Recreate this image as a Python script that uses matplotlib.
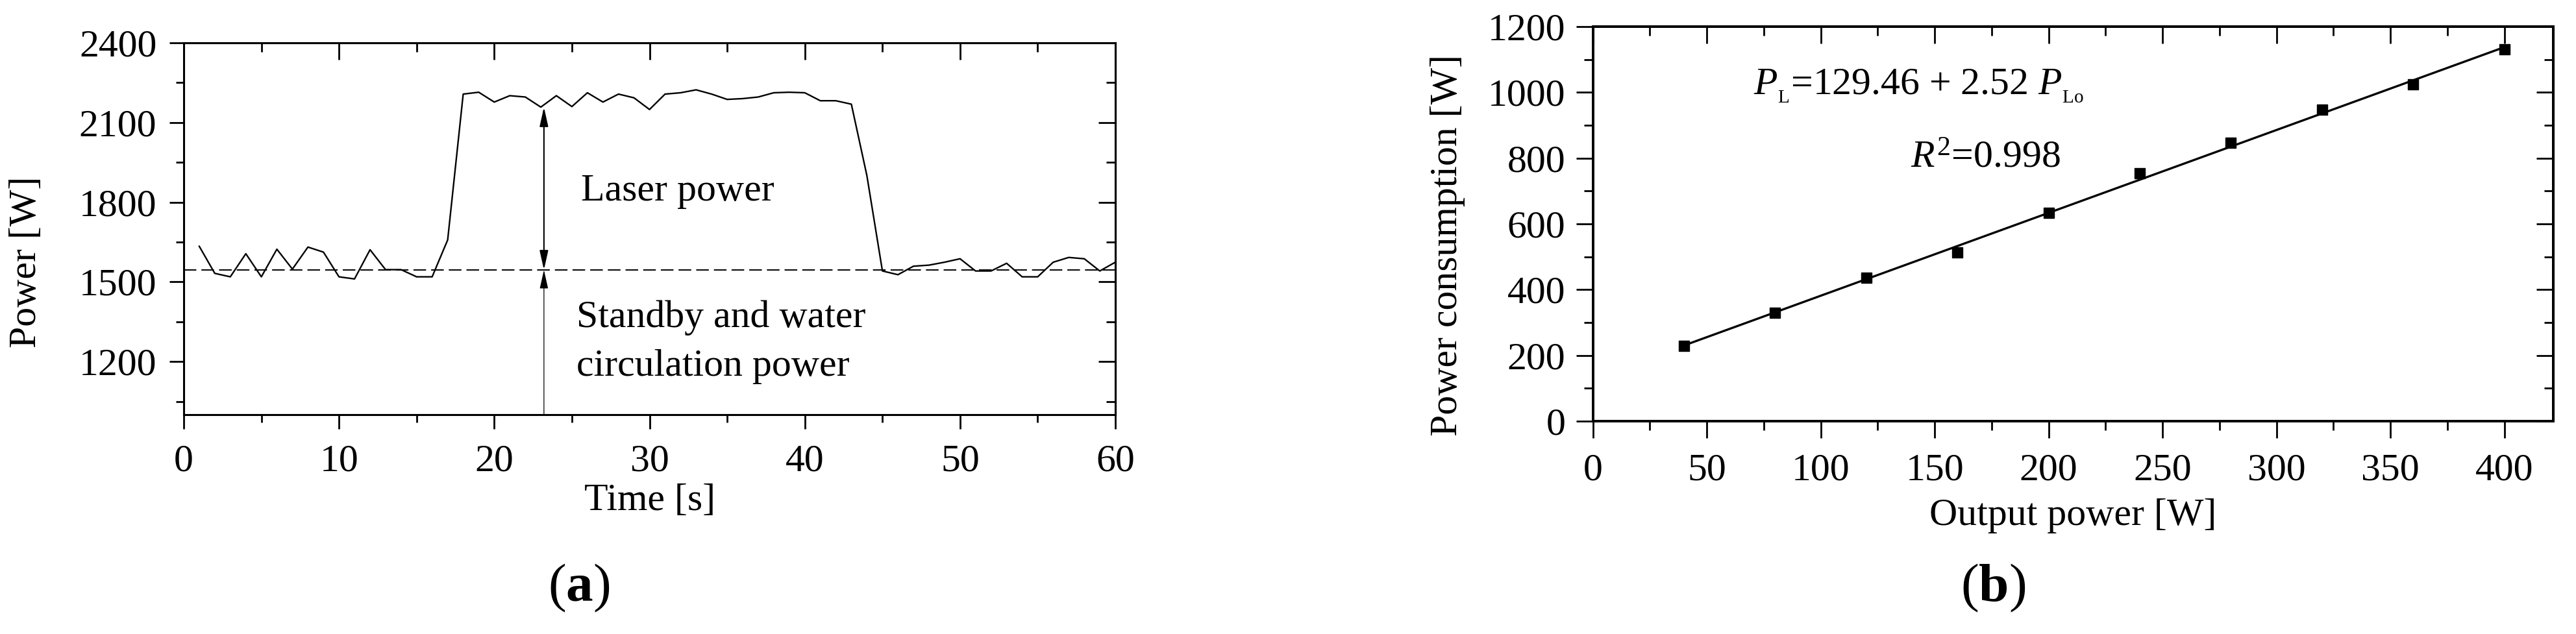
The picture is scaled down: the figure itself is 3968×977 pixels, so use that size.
import matplotlib
matplotlib.use("Agg")
import matplotlib.pyplot as plt
from matplotlib.patches import FancyArrowPatch
import numpy as np

plt.rcParams['font.family'] = ['Liberation Serif', 'DejaVu Serif']
plt.rcParams['mathtext.fontset'] = 'custom'
plt.rcParams['mathtext.rm'] = 'Liberation Serif'
plt.rcParams['mathtext.it'] = 'Liberation Serif:italic'
plt.rcParams['mathtext.bf'] = 'Liberation Serif:bold'

# ---------------- data (a) ----------------
time_s = list(range(1, 61))
power_w = [1634, 1532, 1519, 1606, 1519, 1623, 1548, 1631, 1612, 1519,
           1511, 1621, 1546, 1546, 1519, 1519, 1658, 2207, 2214, 2177,
           2201, 2196, 2158, 2201, 2160, 2212, 2177, 2207, 2193, 2149,
           2207, 2212, 2223, 2207, 2187, 2190, 2196, 2212, 2214, 2212,
           2182, 2182, 2169, 1900, 1541, 1527, 1559, 1563, 1574, 1587,
           1541, 1541, 1570, 1519, 1519, 1574, 1592, 1587, 1541, 1574]
standby_level = 1545
arrow_time = 23.2
arrow_top = 2158
a_xticks = [0, 10, 20, 30, 40, 50, 60]
a_yticks = [1200, 1500, 1800, 2100, 2400]

# ---------------- data (b) ----------------
output_power = [40, 80, 120, 160, 200, 240, 280, 320, 360, 400]
consumption = [228, 330, 437, 514, 633, 754, 846, 948, 1025, 1131]
fit_intercept = 129.46
fit_slope = 2.52
b_xticks = [0, 50, 100, 150, 200, 250, 300, 350, 400]
b_yticks = [0, 200, 400, 600, 800, 1000, 1200]

W, H = 3968, 977
fig = plt.figure(figsize=(W / 100, H / 100), dpi=100)
FS = 43


def style_axes(ax, xmaj, xmin, ymaj, ymin, lw, out_len, in_len, xpad, ypad):
    for s in ax.spines.values():
        s.set_linewidth(lw)
    ax.set_xticks(xmaj)
    ax.set_xticks(xmin, minor=True)
    ax.set_yticks(ymaj)
    ax.set_yticks(ymin, minor=True)
    ax.tick_params(which='major', direction='out', length=out_len, width=2.0,
                   labelsize=FS, top=False, right=False)
    ax.tick_params(which='minor', direction='out', length=out_len * 0.55, width=2.0,
                   top=False, right=False)
    ax.tick_params(axis='x', which='major', pad=xpad)
    ax.tick_params(axis='y', which='major', pad=ypad)
    secx = ax.secondary_xaxis('top')
    secx.set_xticks(xmaj)
    secx.set_xticks(xmin, minor=True)
    secx.tick_params(which='major', direction='in', length=in_len, width=2.0, labeltop=False)
    secx.tick_params(which='minor', direction='in', length=in_len * 0.52, width=2.0, labeltop=False)
    secx.spines['top'].set_linewidth(lw)
    secy = ax.secondary_yaxis('right')
    secy.set_yticks(ymaj)
    secy.set_yticks(ymin, minor=True)
    secy.tick_params(which='major', direction='in', length=in_len, width=2.0, labelright=False)
    secy.tick_params(which='minor', direction='in', length=in_len * 0.52, width=2.0, labelright=False)
    secy.spines['right'].set_linewidth(lw)


# ================= (a) =================
ax1 = fig.add_axes([283 / W, 1 - 639 / H, (1718 - 283) / W, (639 - 66) / H])
ax1.plot(time_s, power_w, color='black', lw=1.7)
ax1.axhline(standby_level, color='black', lw=1.4, ls=(0, (10, 4)))
ax1.set_xlim(0, 60)
ax1.set_ylim(1000, 2400)
style_axes(ax1, a_xticks, np.arange(0, 61, 5), a_yticks, np.arange(1050, 2400, 150),
           2.2, 16, 19, 17, 14)
ax1.set_xlabel('Time [s]', fontsize=FS)
ax1.set_ylabel('Power [W]', fontsize=FS)
ax1.xaxis.set_label_coords(0.5, -0.185)
ax1.yaxis.set_label_coords(-0.150, 0.41)

up = FancyArrowPatch((arrow_time, standby_level), (arrow_time, arrow_top),
                     arrowstyle='<|-|>,head_length=18,head_width=4', mutation_scale=1,
                     lw=1.5, color='black', shrinkA=0, shrinkB=0)
ax1.add_patch(up)
low = FancyArrowPatch((arrow_time, 1000), (arrow_time, standby_level),
                      arrowstyle='-|>,head_length=18,head_width=4', mutation_scale=1,
                      lw=0.9, color='black', shrinkA=0, shrinkB=0)
ax1.add_patch(low)
ax1.text(25.6, 1806, 'Laser power', fontsize=FS, ha='left', va='baseline')
ax1.text(25.3, 1330, 'Standby and water', fontsize=FS, ha='left', va='baseline')
ax1.text(25.3, 1146, 'circulation power', fontsize=FS, ha='left', va='baseline')

# ================= (b) =================
ax2 = fig.add_axes([2453.6 / W, 1 - 649 / H, (3933 - 2453.6) / W, (649 - 41) / H])
fit_x = np.array([output_power[0], output_power[-1]])
ax2.plot(fit_x, fit_intercept + fit_slope * fit_x, color='black', lw=2.4)
ax2.plot(output_power, consumption, ls='none', marker='s', ms=11.5, color='black')
ax2.set_xlim(0, 421.5)
ax2.set_ylim(0, 1200)
style_axes(ax2, b_xticks, np.arange(0, 421, 25), b_yticks, np.arange(0, 1201, 100),
           2.8, 18.5, 19, 17, 12)
ax2.set_xlabel('Output power [W]', fontsize=FS)
ax2.set_ylabel('Power consumption [W]', fontsize=FS)
ax2.xaxis.set_label_coords(0.5, -0.196)
ax2.yaxis.set_label_coords(-0.133, 0.446)
ax2.text(70.5, 995, r'$P_{_\mathrm{L}}$=129.46 + 2.52 $P_{_\mathrm{Lo}}$', fontsize=FS,
         ha='left', va='baseline')
ax2.text(139.3, 772, r'$R^2$=0.998', fontsize=FS, ha='left', va='baseline')

# panel labels
fig.text(892 / W, 1 - 906 / H, r'($\mathbf{a}$)', fontsize=60, ha='center', va='center')
fig.text(3070 / W, 1 - 906 / H, r'($\mathbf{b}$)', fontsize=60, ha='center', va='center')

fig.savefig('out.png', dpi=100)
